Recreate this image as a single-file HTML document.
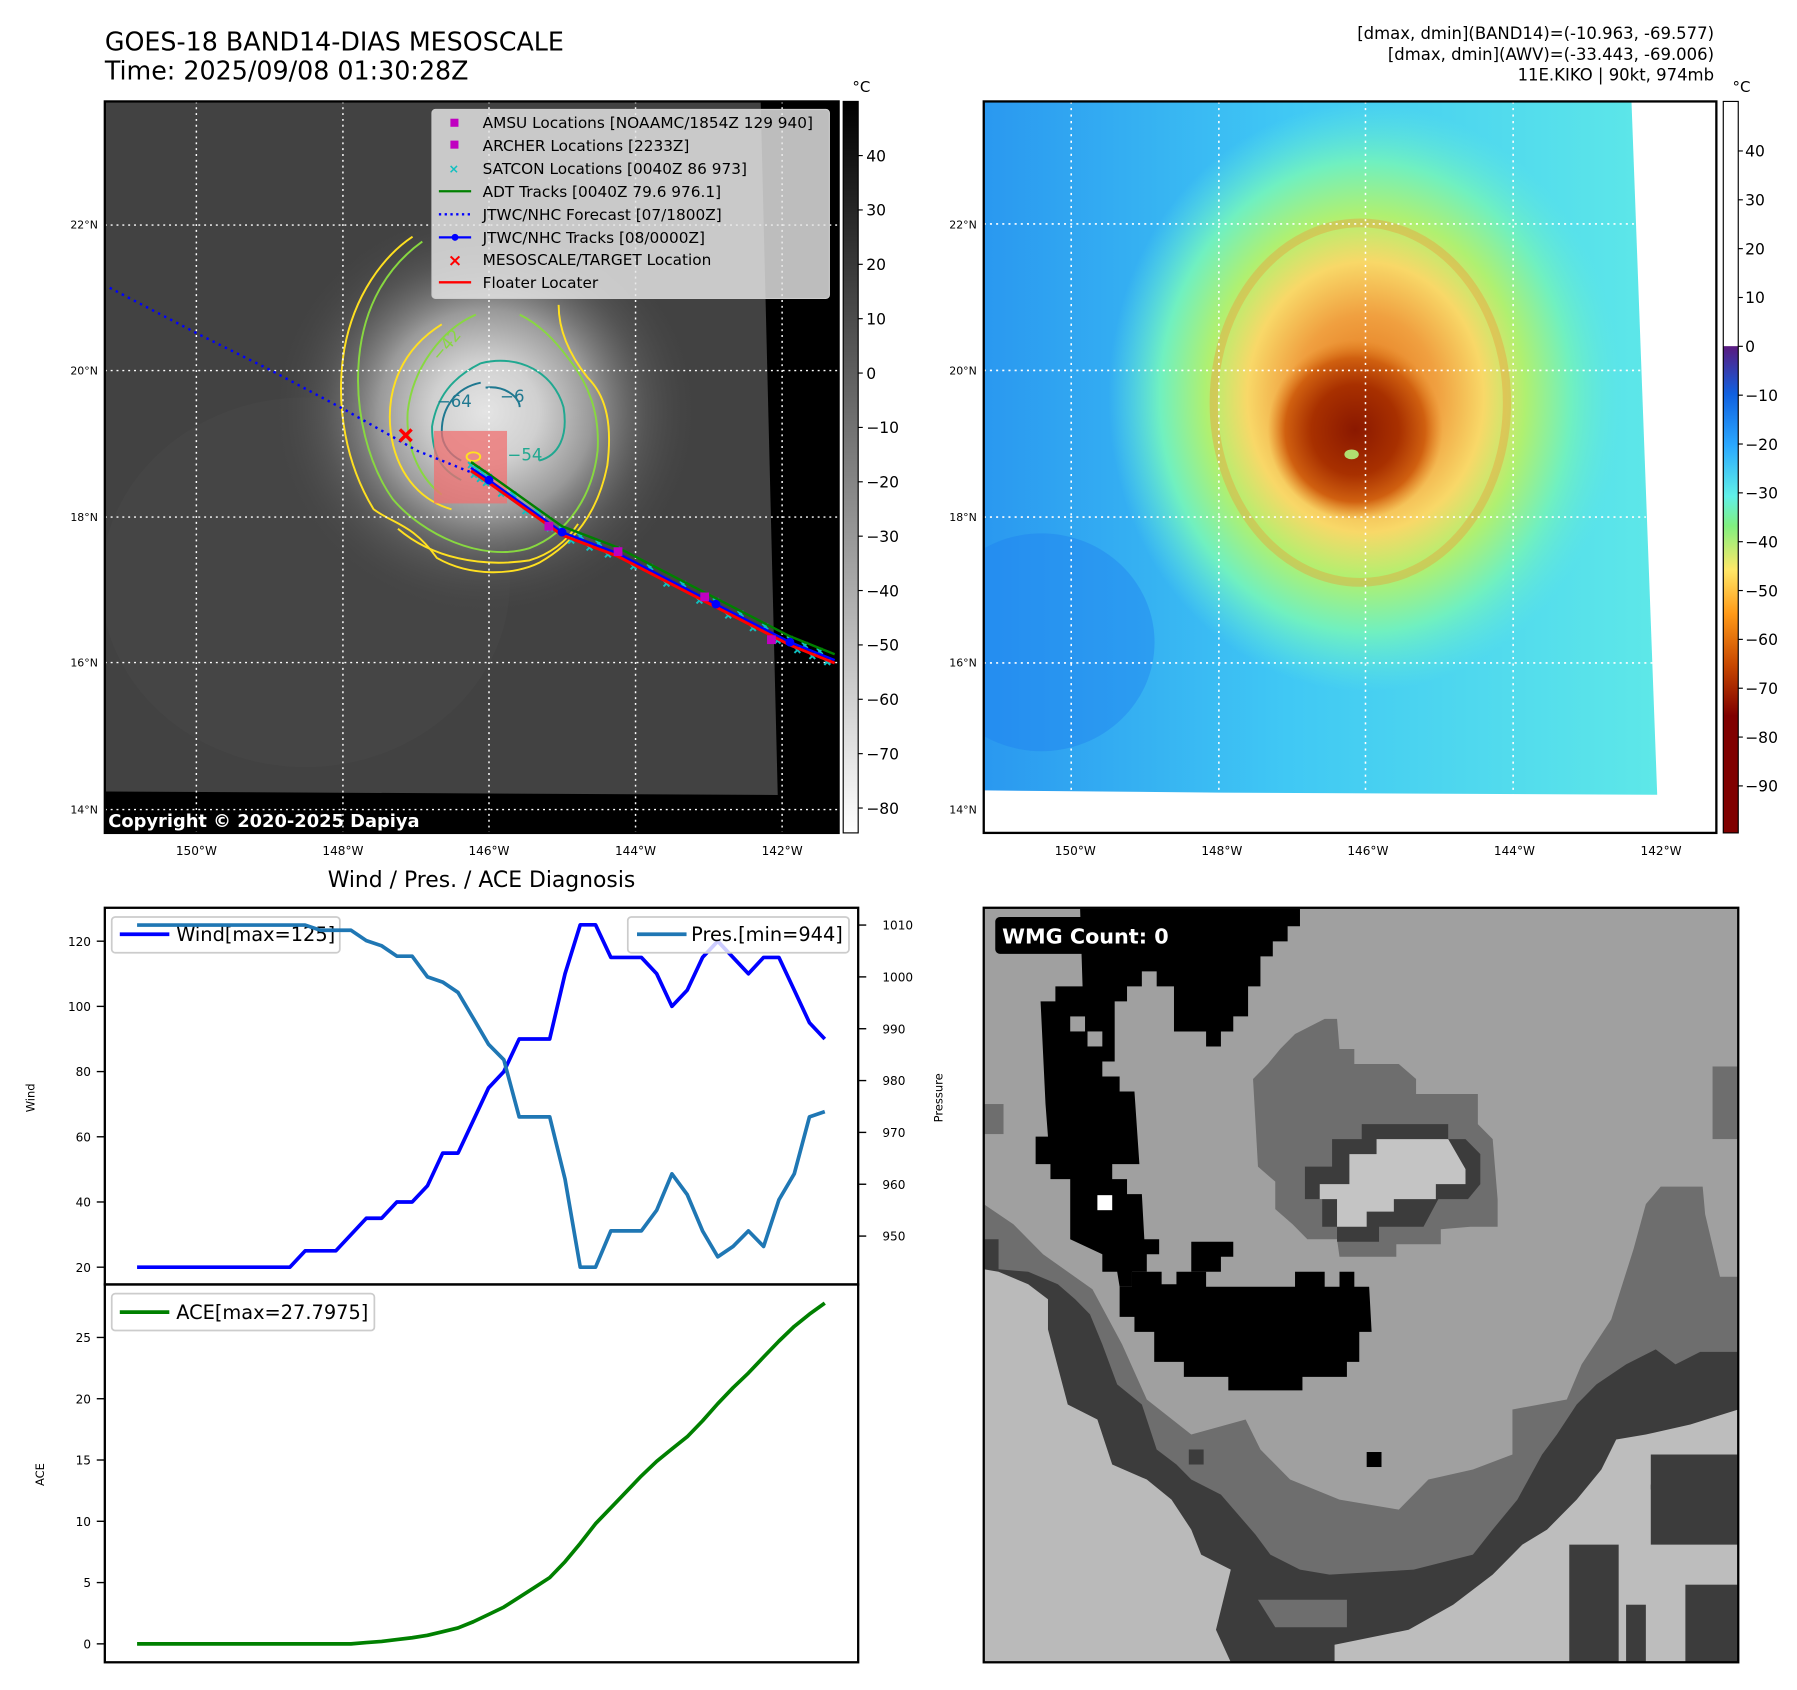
<!DOCTYPE html>
<html><head><meta charset="utf-8"><style>
html,body{margin:0;padding:0;background:#fff;}
svg{display:block;font-family:"DejaVu Sans","Liberation Sans",sans-serif;}
</style></head><body>
<svg id="root" width="1797" height="1690" viewBox="0 0 1560 1467" xmlns="http://www.w3.org/2000/svg">
<defs>
  <linearGradient id="grayBar" x1="0" y1="0" x2="0" y2="1">
    <stop offset="0" stop-color="#000"/><stop offset="1" stop-color="#fff"/>
  </linearGradient>
  <linearGradient id="awvBar" x1="0" y1="0" x2="0" y2="1">
    <stop offset="0" stop-color="#fff"/><stop offset="0.334" stop-color="#fff"/>
    <stop offset="0.335" stop-color="#5a1a80"/>
    <stop offset="0.40" stop-color="#1060e0"/>
    <stop offset="0.47" stop-color="#2aa8ff"/>
    <stop offset="0.54" stop-color="#60f0e8"/>
    <stop offset="0.58" stop-color="#80f080"/>
    <stop offset="0.64" stop-color="#ffe868"/>
    <stop offset="0.70" stop-color="#ff9a18"/>
    <stop offset="0.77" stop-color="#c84800"/>
    <stop offset="0.84" stop-color="#800000"/>
    <stop offset="1" stop-color="#800000"/>
  </linearGradient>
  <radialGradient id="stormGray" cx="0.5" cy="0.5" r="0.5">
    <stop offset="0" stop-color="#e4e4e4"/>
    <stop offset="0.25" stop-color="#d0d0d0"/>
    <stop offset="0.5" stop-color="#999"/>
    <stop offset="0.75" stop-color="#666" stop-opacity="0.5"/>
    <stop offset="1" stop-color="#444" stop-opacity="0"/>
  </radialGradient>
  <linearGradient id="bgBlue" x1="0" y1="0" x2="1" y2="0">
    <stop offset="0" stop-color="#2a98f0"/>
    <stop offset="0.45" stop-color="#40c8f4"/>
    <stop offset="1" stop-color="#5ee8e8"/>
  </linearGradient>
  <radialGradient id="stormColor" cx="0.5" cy="0.5" r="0.5">
    <stop offset="0" stop-color="#e07018"/>
    <stop offset="0.28" stop-color="#f0a040"/>
    <stop offset="0.46" stop-color="#f8d868"/>
    <stop offset="0.62" stop-color="#b0f070"/>
    <stop offset="0.8" stop-color="#70f0c0"/>
    <stop offset="1" stop-color="#60e8e0" stop-opacity="0"/>
  </radialGradient>
  <radialGradient id="coreColor" cx="0.5" cy="0.5" r="0.5">
    <stop offset="0" stop-color="#8a1800"/>
    <stop offset="0.5" stop-color="#a83000"/>
    <stop offset="0.8" stop-color="#d06010"/>
    <stop offset="1" stop-color="#e08020" stop-opacity="0"/>
  </radialGradient>
</defs>

<!-- Titles -->
<text x="91" y="44" font-size="22">GOES-18 BAND14-DIAS MESOSCALE</text>
<text x="91" y="69" font-size="22">Time: 2025/09/08 01:30:28Z</text>
<g font-size="14.3" text-anchor="end">
  <text x="1488" y="34">[dmax, dmin](BAND14)=(-10.963, -69.577)</text>
  <text x="1488" y="52">[dmax, dmin](AWV)=(-33.443, -69.006)</text>
  <text x="1488" y="70">11E.KIKO | 90kt, 974mb</text>
</g>

<!-- LEFT MAP -->
<svg x="91" y="88" width="637" height="635" viewBox="8 12 1507 1503" preserveAspectRatio="none">
  <rect x="8" y="12" width="1507" height="1503" fill="#000"/>
  <polygon points="8,12 1355,12 1390,1437 8,1430" fill="#424242"/>
  <ellipse cx="420" cy="1000" rx="420" ry="380" fill="#4c4c4c" opacity="0.3"/>
  <ellipse cx="790" cy="650" rx="440" ry="420" fill="url(#stormGray)"/>
  <g fill="none" stroke-width="4">
    <path d="M640,290 C580,330 520,410 500,520 C480,640 505,760 560,850 C600,880 640,880 690,950 C760,990 850,985 900,960 C970,920 1020,860 1040,760 C1050,680 1040,620 1000,580 C960,530 940,480 940,430" stroke="#ffe020"/>
    <path d="M700,470 C620,520 585,600 595,690 C605,770 650,830 720,850" stroke="#ffe020"/>
    <path d="M610,890 C680,950 780,970 880,955 C930,940 960,910 980,880" stroke="#ffe020"/>
    <path d="M660,300 C590,350 540,430 530,540 C520,650 550,760 600,830 C660,900 780,960 880,930 C960,900 1010,820 1020,730 C1025,650 1000,590 960,540 C930,500 900,470 860,450" stroke="#88d840"/>
    <path d="M770,450 C700,480 640,560 630,650 C625,730 660,790 700,820" stroke="#88d840"/>
    <path d="M780,550 C720,580 690,620 680,680 C680,740 700,770 740,790 M780,550 C860,530 930,570 950,640 C960,700 940,740 900,750" stroke="#20a890"/>
    <path d="M780,590 C730,600 700,640 700,690 C700,720 720,740 740,750 M790,600 C830,595 860,620 860,640" stroke="#1f7890"/>
  </g>
  <g font-size="34">
    <text x="690" y="640" fill="#1f7890">−64</text>
    <text x="820" y="630" fill="#1f7890">−6</text>
    <text x="835" y="750" fill="#20a890">−54</text>
    <text x="680" y="545" fill="#88d840" transform="rotate(-50 690 530)">−42</text>
  </g>
  <rect x="684" y="689" width="150" height="149" fill="#f07070" opacity="0.75"/>
  <ellipse cx="765" cy="742" rx="14" ry="9" fill="none" stroke="#ffe020" stroke-width="4"/>
  <g stroke="#fff" stroke-width="3" stroke-dasharray="4,8">
    <line x1="196" y1="12" x2="196" y2="1515"/><line x1="497" y1="12" x2="497" y2="1515"/>
    <line x1="797" y1="12" x2="797" y2="1515"/><line x1="1098" y1="12" x2="1098" y2="1515"/>
    <line x1="1399" y1="12" x2="1399" y2="1515"/>
    <line x1="8" y1="266" x2="1515" y2="266"/><line x1="8" y1="565" x2="1515" y2="565"/>
    <line x1="8" y1="866" x2="1515" y2="866"/><line x1="8" y1="1165" x2="1515" y2="1165"/>
    <line x1="8" y1="1467" x2="1515" y2="1467"/>
  </g>
  <g id="trackLayer"></g>
</svg>
<rect x="91" y="88" width="637" height="635" fill="none" stroke="#000" stroke-width="2"/>
<text x="94" y="718" font-size="15.5" font-weight="bold" fill="#fff">Copyright © 2020-2025 Dapiya</text>

<!-- left legend -->
<g>
  <rect x="375" y="95" width="345" height="164" rx="3" fill="#e6e6e6" fill-opacity="0.82" stroke="#ccc"/>
  <g font-size="13.3">
    <rect x="391" y="103" width="7" height="7" fill="#c000c0"/><text x="419" y="111">AMSU Locations [NOAAMC/1854Z 129 940]</text>
    <rect x="391" y="122" width="7" height="7" fill="#c000c0"/><text x="419" y="131">ARCHER Locations [2233Z]</text>
    <text x="394" y="150" fill="#10c0c0" font-size="11" text-anchor="middle" font-weight="bold">×</text><text x="419" y="151">SATCON Locations [0040Z 86 973]</text>
    <line x1="381" y1="166" x2="409" y2="166" stroke="#008000" stroke-width="2"/><text x="419" y="171">ADT Tracks [0040Z 79.6 976.1]</text>
    <line x1="381" y1="186" x2="409" y2="186" stroke="#0000ff" stroke-width="2" stroke-dasharray="2,3"/><text x="419" y="191">JTWC/NHC Forecast [07/1800Z]</text>
    <line x1="381" y1="206" x2="409" y2="206" stroke="#0000ff" stroke-width="2"/><circle cx="395" cy="206" r="3" fill="#0000ff"/><text x="419" y="211">JTWC/NHC Tracks [08/0000Z]</text>
    <text x="395" y="231" fill="#ff0000" font-size="15" text-anchor="middle" font-weight="bold">×</text><text x="419" y="230">MESOSCALE/TARGET Location</text>
    <line x1="381" y1="245" x2="409" y2="245" stroke="#ff0000" stroke-width="2"/><text x="419" y="250">Floater Locater</text>
  </g>
</g>

<!-- left colorbar -->
<rect x="732" y="88" width="13" height="635" fill="url(#grayBar)" stroke="#000" stroke-width="1"/>
<text x="740" y="80" font-size="13">°C</text>
<g id="cbLeft" font-size="13.5"></g>

<!-- RIGHT MAP -->
<svg x="854" y="88" width="636" height="635" viewBox="-32 187 1424 1343" preserveAspectRatio="none">
  <rect x="-32" y="187" width="1424" height="1343" fill="#fff"/>
  <polygon points="-32,187 1227,187 1277,1460 425,1456 -32,1452" fill="url(#bgBlue)"/>
  <ellipse cx="80" cy="1180" rx="220" ry="200" fill="#1e7ef0" opacity="0.4"/>
  <ellipse cx="710" cy="730" rx="500" ry="540" fill="url(#stormColor)"/>
  <ellipse cx="700" cy="740" rx="285" ry="330" fill="none" stroke="#f09030" stroke-width="16" opacity="0.35"/>
  <ellipse cx="690" cy="790" rx="170" ry="165" fill="url(#coreColor)"/>
  <ellipse cx="683" cy="835" rx="14" ry="9" fill="#b0e070"/>
  <g stroke="#fff" stroke-width="3" stroke-dasharray="4,8">
    <line x1="138" y1="187" x2="138" y2="1455"/><line x1="425" y1="187" x2="425" y2="1455"/>
    <line x1="710" y1="187" x2="710" y2="1458"/><line x1="997" y1="187" x2="997" y2="1460"/>
    <line x1="-32" y1="412" x2="1235" y2="412"/><line x1="-32" y1="681" x2="1245" y2="681"/>
    <line x1="-32" y1="950" x2="1255" y2="950"/><line x1="-32" y1="1218" x2="1268" y2="1218"/>
  </g>
</svg>
<rect x="854" y="88" width="636" height="635" fill="none" stroke="#000" stroke-width="2"/>
<rect x="1496" y="88" width="13" height="635" fill="url(#awvBar)" stroke="#000" stroke-width="1"/>
<text x="1504" y="80" font-size="13">°C</text>
<g id="cbRight" font-size="13.5"></g>

<g id="mapLabels" font-size="9.5"></g>

<!-- BOTTOM-RIGHT PIXEL PANEL -->
<svg x="854" y="788" width="655" height="655" viewBox="0 8 1527 1507" preserveAspectRatio="none">
  <rect x="0" y="8" width="1527" height="1507" fill="#a0a0a0"/>
  <polygon fill="#6e6e6e" points="0,600 60,640 120,700 220,770 280,880 330,990 420,1060 530,1030 560,1090 620,1150 720,1190 840,1210 900,1150 990,1130 1070,1100 1070,1010 1180,990 1210,920 1270,830 1315,690 1340,600 1370,565 1455,565 1460,620 1490,745 1527,745 1527,1515 0,1515"/>
  <polygon fill="#3c3c3c" points="0,670 30,670 30,730 90,735 150,760 185,790 215,820 240,880 270,960 320,1000 350,1090 390,1120 420,1150 480,1180 550,1260 580,1300 640,1330 700,1340 870,1330 990,1300 1030,1250 1080,1190 1130,1100 1160,1060 1200,1000 1240,960 1300,920 1360,890 1400,920 1450,895 1527,895 1527,1515 0,1515"/>
  <polygon fill="#bababa" points="0,730 30,735 90,760 130,790 130,850 170,1000 230,1030 260,1120 330,1150 380,1190 420,1250 440,1300 500,1330 470,1450 500,1515 0,1515"/>
  <polygon fill="#bdbdbd" points="710,1515 710,1480 860,1450 950,1400 1030,1340 1090,1280 1140,1250 1200,1190 1250,1130 1280,1070 1340,1060 1430,1040 1527,1010 1527,1515"/>
  <g fill="#3c3c3c">
    <rect x="1350" y="1160" width="177" height="120"/>
    <rect x="1185" y="1280" width="100" height="235"/>
    <rect x="1420" y="1360" width="107" height="155"/>
    <rect x="1350" y="1100" width="177" height="70"/>
    <rect x="1300" y="1400" width="40" height="115"/>
  </g>
  <polygon fill="#6e6e6e" points="555,1390 735,1390 735,1445 590,1445"/>
  <rect x="0" y="400" width="40" height="60" fill="#6e6e6e"/>
  <rect x="1475" y="325" width="52" height="145" fill="#6e6e6e"/>
  <polygon fill="#6e6e6e" points="545,350 575,320 600,290 630,260 690,230 715,230 720,290 750,290 750,320 840,320 875,350 875,380 1000,380 1000,440 1030,470 1040,590 1040,645 985,645 925,650 925,680 835,680 835,705 720,705 715,670 655,670 625,640 590,610 590,555 555,525"/>
  <polygon fill="#3c3c3c" points="650,525 705,525 705,470 765,470 765,440 940,440 940,470 975,470 1005,500 1005,560 980,590 920,590 890,645 800,645 800,675 715,675 715,645 685,645 685,590 650,590"/>
  <polygon fill="#c4c4c4" points="740,500 795,500 795,470 940,470 975,530 975,560 915,560 915,590 830,590 830,615 775,615 775,645 715,645 715,590 680,590 680,560 740,560"/>
  <polygon fill="#000" points="195,10 640,10 640,45 615,45 615,75 585,75 585,105 560,105 560,165 535,165 535,225 505,225 505,255 480,255 480,285 450,285 450,255 385,255 385,165 350,165 350,135 320,135 320,165 290,165 290,195 265,195 265,315 240,315 240,345 275,345 275,375 305,375 315,520 260,520 260,550 290,550 290,580 320,580 325,670 355,670 355,700 330,700 330,735 300,735 300,765 275,765 270,735 240,735 240,700 175,670 175,550 135,550 135,520 105,520 105,465 130,465 125,400 115,195 145,195 145,165 200,165"/>
  <rect x="175" y="225" width="30" height="30" fill="#a0a0a0"/><rect x="210" y="255" width="30" height="30" fill="#a0a0a0"/>
  <polygon fill="#000" points="275,765 300,765 300,735 360,735 360,760 390,760 390,735 450,735 450,765 630,765 630,735 690,735 690,765 720,765 720,735 750,735 750,765 780,765 785,855 760,855 760,915 735,915 735,945 645,945 645,972 495,972 495,945 405,945 405,915 345,915 345,855 305,855 305,825 275,825"/>
  <polygon fill="#000" points="420,675 505,675 505,705 480,705 480,735 420,735"/>
  <rect x="230" y="582" width="30" height="30" fill="#fff"/>
  <rect x="775" y="1095" width="30" height="30" fill="#000"/>
  <rect x="415" y="1090" width="30" height="30" fill="#3c3c3c"/>
</svg>
<rect x="854" y="788" width="655" height="655" fill="none" stroke="#000" stroke-width="2"/>
<rect x="864" y="796" width="160" height="32" rx="4" fill="#000"/>
<text x="870" y="819" font-size="18" font-weight="bold" fill="#fff">WMG Count: 0</text>

<!-- BOTTOM-LEFT CHART -->
<text x="418" y="770" font-size="19" text-anchor="middle">Wind / Pres. / ACE Diagnosis</text>
<g id="chart"></g>
<rect x="91" y="788" width="654" height="327" fill="none" stroke="#000" stroke-width="2"/>
<rect x="91" y="1115" width="654" height="328" fill="none" stroke="#000" stroke-width="2"/>
</svg>

<script>
const NS = 'http://www.w3.org/2000/svg';
function mk(tag, attrs, parent, text){
  const e = document.createElementNS(NS, tag);
  for (const k in attrs) e.setAttribute(k, attrs[k]);
  if (text !== undefined) e.textContent = text;
  parent.appendChild(e);
  return e;
}

// ---------- chart data ----------
const windValues = [20,20,20,20,20,20,20,20,20,20,20,25,25,25,30,35,35,40,40,45,55,55,65,75,80,90,90,90,110,125,125,115,115,115,110,100,105,115,120,115,110,115,115,105,95,90];
const presValues = [1010,1010,1010,1010,1010,1010,1010,1010,1010,1010,1010,1010,1009,1009,1009,1007,1006,1004,1004,1000,999,997,992,987,984,973,973,973,961,944,944,951,951,951,955,962,958,951,946,948,951,948,957,962,973,974];
const aceValues = [0,0,0,0,0,0,0,0,0,0,0,0,0,0,0,0.1,0.2,0.35,0.5,0.7,1.0,1.3,1.8,2.4,3.0,3.8,4.6,5.4,6.7,8.2,9.8,11.1,12.4,13.7,14.9,15.9,16.9,18.2,19.6,20.9,22.1,23.4,24.7,25.9,26.9,27.8];
const windTicks = [20,40,60,80,100,120];
const presTicks = [950,960,970,980,990,1000,1010];
const aceTicks = [0,5,10,15,20,25];

const xS = i => 119 + i*(716-119)/(windValues.length-1);
const yW = v => 1100 - (v-20)*2.83;
const yP = p => 803 + (1010-p)*4.5;
const yA = a => 1427 - a*10.64;

const chart = document.getElementById('chart');
const ticksG = mk('g', {'font-size':'10.5'}, chart);
windTicks.forEach(t=>{
  const y = yW(t);
  mk('line',{x1:84,x2:91,y1:y,y2:y,stroke:'#000','stroke-width':1.2},ticksG);
  const tx = mk('text',{x:79,y:y+4,'text-anchor':'end'},ticksG,String(t));
  
  
});
presTicks.forEach(t=>{
  const y = yP(t);
  mk('line',{x1:745,x2:752,y1:y,y2:y,stroke:'#000','stroke-width':1.2},ticksG);
  const tx = mk('text',{x:766,y:y+4},ticksG,String(t));
  
  
});
aceTicks.forEach(t=>{
  const y = yA(t);
  mk('line',{x1:84,x2:91,y1:y,y2:y,stroke:'#000','stroke-width':1.2},ticksG);
  const tx = mk('text',{x:79,y:y+4,'text-anchor':'end'},ticksG,String(t));
  
  
});
let lab = mk('text',{x:30,y:953,'font-size':'10','text-anchor':'middle',transform:'rotate(-90 30 953)'},chart,'Wind');


lab = mk('text',{x:818,y:953,'font-size':'10','text-anchor':'middle',transform:'rotate(-90 818 953)'},chart,'Pressure');


lab = mk('text',{x:38,y:1280,'font-size':'10','text-anchor':'middle',transform:'rotate(-90 38 1280)'},chart,'ACE');



function linePath(vals, yf){ return vals.map((v,i)=>(i?'L':'M')+xS(i).toFixed(1)+','+yf(v).toFixed(1)).join(' '); }
const windLine = mk('path',{d:linePath(windValues,yW),fill:'none',stroke:'#0000ff','stroke-width':3.2,'stroke-linejoin':'round'},chart);


let lg = mk('g',{},chart);


mk('rect',{x:97,y:796,width:198,height:31,rx:3,fill:'#fff','fill-opacity':0.8,stroke:'#ccc','stroke-width':1.5},lg);
mk('line',{x1:104,x2:147,y1:811,y2:811,stroke:'#0000ff','stroke-width':3.2},lg);
mk('text',{x:153,y:817,'font-size':'16.8'},lg,'Wind[max=125]');
const presLine = mk('path',{d:linePath(presValues,yP),fill:'none',stroke:'#1f77b4','stroke-width':3.2,'stroke-linejoin':'round'},chart);


lg = mk('g',{},chart);


mk('rect',{x:545,y:796,width:192,height:31,rx:3,fill:'#fff','fill-opacity':0.8,stroke:'#ccc','stroke-width':1.5},lg);
mk('line',{x1:553,x2:596,y1:811,y2:811,stroke:'#1f77b4','stroke-width':3.2},lg);
mk('text',{x:600,y:817,'font-size':'16.8'},lg,'Pres.[min=944]');
const aceLine = mk('path',{d:linePath(aceValues,yA),fill:'none',stroke:'#008000','stroke-width':3.2,'stroke-linejoin':'round'},chart);


lg = mk('g',{},chart);


mk('rect',{x:97,y:1123,width:228,height:32,rx:3,fill:'#fff','fill-opacity':0.8,stroke:'#ccc','stroke-width':1.5},lg);
mk('line',{x1:104,x2:147,y1:1139,y2:1139,stroke:'#008000','stroke-width':3.2},lg);
mk('text',{x:153,y:1145,'font-size':'16.8'},lg,'ACE[max=27.7975]');

// ---------- colorbars ----------
const cbLeftTicks = [40,30,20,10,0,-10,-20,-30,-40,-50,-60,-70,-80];
const cbRightTicks = [40,30,20,10,0,-10,-20,-30,-40,-50,-60,-70,-80,-90];
const cbL = document.getElementById('cbLeft');
cbLeftTicks.forEach(v=>{
  const y = 135 + (40-v)*4.72;
  mk('line',{x1:745,x2:749,y1:y,y2:y,stroke:'#000'},cbL);
  const t = mk('text',{x:752,y:y+5},cbL,(v<0?'−':'')+Math.abs(v));
  
  
});
const cbR = document.getElementById('cbRight');
cbRightTicks.forEach(v=>{
  const y = 131 + (40-v)*4.24;
  mk('line',{x1:1509,x2:1513,y1:y,y2:y,stroke:'#000'},cbR);
  const t = mk('text',{x:1515,y:y+5},cbR,(v<0?'−':'')+Math.abs(v));
  
  
});

// ---------- map axis labels ----------
const lonLabels = ['150°W','148°W','146°W','144°W','142°W'];
const latLabels = ['22°N','20°N','18°N','16°N','14°N'];
const lonPos = [170.5,297.7,424.5,551.7,679];
const latPos = [195,321.6,448.8,575,702.7];
const ml = document.getElementById('mapLabels');
[0,763].forEach(off=>{
  lonLabels.forEach((s,i)=>{
    const t = mk('text',{x:lonPos[i]+off,y:742,'text-anchor':'middle','font-size':'10.5'},ml,s);
    
    
  });
  latLabels.forEach((s,i)=>{
    const t = mk('text',{x:85+off,y:latPos[i]+3.5,'text-anchor':'end'},ml,s);
    
    
  });
});

// ---------- tracks (left map) ----------
const forecastX = [18,200,350,500,650,800];
const forecastY = [395,490,565,645,730,790];
const trackX = [760,797,947,1060,1263,1415,1507];
const trackY = [765,790,897,940,1045,1123,1160];
const amsuX = [920,1062,1240,1377];
const amsuY = [885,937,1030,1118];
const tl = document.getElementById('trackLayer');
const ptsF = forecastX.map((x,i)=>x+','+forecastY[i]).join(' ');
let el = mk('polyline',{points:ptsF,fill:'none',stroke:'#0000ff','stroke-width':5,'stroke-dasharray':'5,9'},tl);


const sat = mk('g',{stroke:'#10c0c0','stroke-width':4},tl);


for (let s=0;s<trackX.length-1;s++){
  const n = 6;
  for (let k=0;k<n;k++){
    const f=k/n, x=trackX[s]+(trackX[s+1]-trackX[s])*f, y=trackY[s]+(trackY[s+1]-trackY[s])*f+ (k%2?10:-6);
    mk('path',{d:`M${x-6},${y-6}L${x+6},${y+6}M${x-6},${y+6}L${x+6},${y-6}`},sat);
  }
}
const ptsT = trackX.map((x,i)=>x+','+trackY[i]).join(' ');
el = mk('polyline',{points:trackX.map((x,i)=>x+','+(trackY[i]-12)).join(' '),fill:'none',stroke:'#008000','stroke-width':5},tl);


el = mk('polyline',{points:ptsT,fill:'none',stroke:'#0000ff','stroke-width':5},tl);


el = mk('polyline',{points:trackX.map((x,i)=>x+','+(trackY[i]+6)).join(' '),fill:'none',stroke:'#ff0000','stroke-width':6},tl);


[1,2,4,5].forEach(i=>{
  const c = mk('circle',{cx:trackX[i],cy:trackY[i],r:9,fill:'#0000ff'},tl);
  
  
});
amsuX.forEach((x,i)=>{
  const r = mk('rect',{x:x-9,y:amsuY[i]-9,width:18,height:18,fill:'#c000c0'},tl);
  
  
});
el = mk('path',{d:'M614,686L638,710M614,710L638,686',stroke:'#ff0000','stroke-width':7},tl);


</script>
</body></html>
